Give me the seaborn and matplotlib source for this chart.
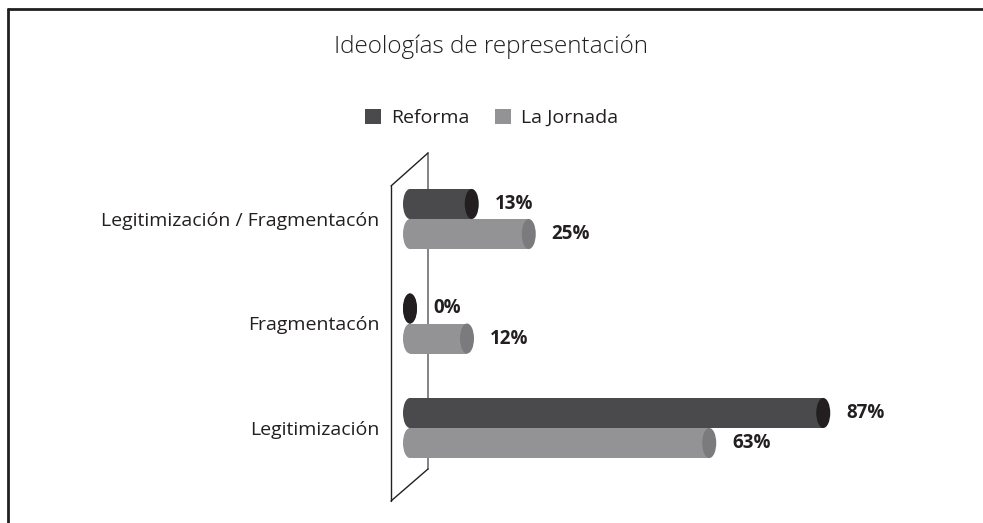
import matplotlib.pyplot as plt
import pandas as pd
import seaborn as sns
from matplotlib.patches import Ellipse
from matplotlib.lines import Line2D

# data
categories = ["Legitimización / Fragmentacón", "Fragmentacón", "Legitimización"]
reforma = [13, 0, 87]
la_jornada = [25, 12, 63]
series = ["Reforma", "La Jornada"]

df = pd.DataFrame({
    "categoria": categories * 2,
    "valor": reforma + la_jornada,
    "medio": [series[0]] * 3 + [series[1]] * 3,
})

body_colors = {"Reforma": "#4a4a4c", "La Jornada": "#939396"}
cap_colors = {"Reforma": "#231f20", "La Jornada": "#7b7b7e"}

sns.set_theme(style="white")
plt.rcParams["font.family"] = ["Open Sans", "DejaVu Sans"]

W, H = 983, 523
fig = plt.figure(figsize=(W / 100, H / 100), dpi=100)

# axes placed in pixels: x=0 at 410px, 4.75 px per percent
px0, k = 410, 4.75
ax_l, ax_r = 388, 900
ax_top, ax_bot = 166.75, 480.25
ax = fig.add_axes([ax_l / W, 1 - ax_bot / H, (ax_r - ax_l) / W, (ax_bot - ax_top) / H])
ax.patch.set_alpha(0)

sns.barplot(data=df, y="categoria", x="valor", hue="medio", orient="h",
            palette=body_colors, width=0.575, dodge=True, ax=ax,
            saturation=1, linewidth=0, zorder=3, legend=True)

ax.set_xlim((ax_l - px0) / k, (ax_r - px0) / k)
ax.set_ylim(2.5, -0.5)

cap_w = 14 / k
for container, name in zip(ax.containers, series):
    for bar in container:
        y = bar.get_y() + bar.get_height() / 2
        h = bar.get_height()
        v = bar.get_width()
        # rounded left end
        ax.add_patch(Ellipse((0, y), cap_w, h, facecolor=body_colors[name],
                             edgecolor="none", zorder=3, clip_on=False))
        # right cap
        ax.add_patch(Ellipse((v, y), cap_w, h, facecolor=cap_colors[name],
                             edgecolor="none", zorder=4, clip_on=False))
        ax.text(v + cap_w / 2 + 16 / k, y, f"{v:.0f}%", ha="left", va="center",
                fontsize=13.5, fontweight="bold", color="#231f20")

ax.set_xlabel("")
ax.set_ylabel("")
ax.set_xticks([])
ax.tick_params(axis="y", length=0, pad=6, labelsize=14, labelcolor="#231f20")
for s in ax.spines.values():
    s.set_visible(False)

leg = ax.legend(loc="center", bbox_to_anchor=(0.5, 1 - 118 / H),
                bbox_transform=fig.transFigure, ncol=2, frameon=False,
                fontsize=14, handlelength=0.85, handleheight=0.85,
                handletextpad=0.5, columnspacing=1.3, labelcolor="#231f20")

fig.text(0.5, 1 - 47 / H, "Ideologías de representación", ha="center",
         va="center", fontsize=17.5, fontweight="light", color="#231f20")


def wall_line(xs, ys, **kw):
    ax.add_line(Line2D([x / W for x in xs], [1 - y / H for y in ys],
                       transform=fig.transFigure, clip_on=False, **kw))


# wall of the 3D chart, behind the bars
wall_line([428, 428], [153, 469], color="#6d6e71", lw=1.2, zorder=1)
wall_line([391, 428], [501, 469], color="#231f20", lw=1.0, zorder=1)
wall_line([391, 391], [186, 501], color="#231f20", lw=1.0, zorder=1)
wall_line([391, 428], [186, 153], color="#231f20", lw=1.0, zorder=1)

# frame
fig.add_artist(Line2D([8 / W, 1], [1 - 9 / H, 1 - 9 / H], color="#231f20", lw=2))
fig.add_artist(Line2D([8 / W, 8 / W], [1 - 9 / H, 0], color="#231f20", lw=2))

fig.savefig("out.png", dpi=100)
